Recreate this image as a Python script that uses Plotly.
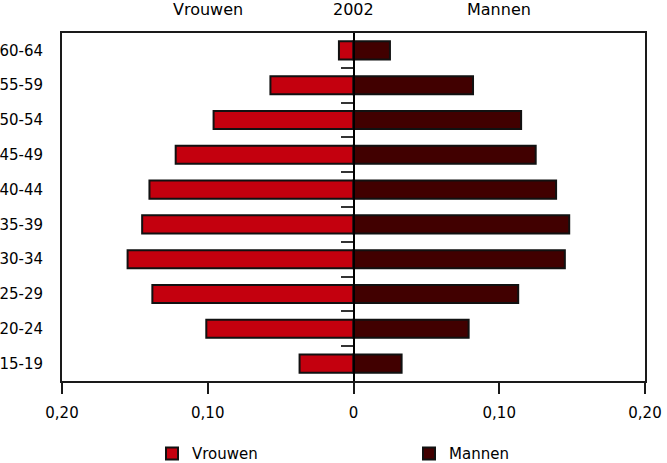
import plotly.graph_objects as go

age_groups = ["15-19", "20-24", "25-29", "30-34", "35-39",
              "40-44", "45-49", "50-54", "55-59", "60-64"]
vrouwen = [0.037, 0.101, 0.138, 0.155, 0.145, 0.140, 0.122, 0.096, 0.057, 0.010]
mannen = [0.033, 0.079, 0.113, 0.145, 0.148, 0.139, 0.125, 0.115, 0.082, 0.025]
x_tickvals = [-0.2, -0.1, 0, 0.1, 0.2]
x_ticktext = ["0,20", "0,10", "0", "0,10", "0,20"]
boundaries = [0.5, 1.5, 2.5, 3.5, 4.5, 5.5, 6.5, 7.5, 8.5]

FONT = "DejaVu Sans"
RED = "#C4000E"
MAROON = "#410000"

fig = go.Figure()
fig.add_trace(go.Bar(
    y=age_groups, x=[-v for v in vrouwen], orientation="h", name="Vrouwen",
    marker=dict(color=RED, line=dict(color="#111111", width=2)),
    legend="legend",
))
fig.add_trace(go.Bar(
    y=age_groups, x=mannen, orientation="h", name="Mannen",
    marker=dict(color=MAROON, line=dict(color="#111111", width=2)),
    legend="legend2",
))
# invisible helper trace so the zero-position axis (with boundary ticks) is drawn
fig.add_trace(go.Scatter(
    x=[0], y=[0], yaxis="y2", mode="markers", marker=dict(opacity=0),
    showlegend=False, hoverinfo="skip",
))

legend_common = dict(
    orientation="h", xanchor="left", yref="container", y=0.02, yanchor="middle",
    xref="container", font=dict(family=FONT, size=15, color="black"),
    bgcolor="rgba(0,0,0,0)",
)

fig.update_layout(
    width=667, height=463,
    margin=dict(l=62, r=22, t=33, b=82, pad=0, autoexpand=False),
    plot_bgcolor="white", paper_bgcolor="white",
    font=dict(family=FONT, size=15, color="black"),
    barmode="overlay", bargap=0.48,
    xaxis=dict(
        range=[-0.2, 0.2], tickvals=x_tickvals, ticktext=x_ticktext,
        showgrid=False, zeroline=False, automargin=False,
        showline=True, mirror=True, linecolor="#1a1a1a", linewidth=2,
        ticks="outside", ticklen=11, tickwidth=1.5, tickcolor="#1a1a1a",
        ticklabelstandoff=6,
        tickfont=dict(family=FONT, size=15, color="black"),
    ),
    yaxis=dict(
        type="category", categoryorder="array", categoryarray=age_groups,
        range=[-0.5, 9.5], automargin=False,
        showgrid=False, zeroline=False,
        showline=True, mirror=True, linecolor="#1a1a1a", linewidth=2,
        ticks="", ticklabelstandoff=14,
        tickfont=dict(family=FONT, size=15, color="black"),
    ),
    yaxis2=dict(
        overlaying="y", anchor="free", position=0.5, side="left",
        range=[-0.5, 9.5], tickvals=boundaries, showticklabels=False,
        showgrid=False, zeroline=False, automargin=False,
        showline=True, linecolor="black", linewidth=2,
        ticks="outside", ticklen=12, tickwidth=1.5, tickcolor="#333333",
    ),
    legend=dict(x=152 / 667, **legend_common),
    legend2=dict(x=409 / 667, **legend_common),
    annotations=[
        dict(text="Vrouwen", x=-0.1, y=1.0, xref="x", yref="paper",
             yanchor="middle", yshift=24, showarrow=False,
             font=dict(family=FONT, size=16, color="black")),
        dict(text="2002", x=0, y=1.0, xref="x", yref="paper",
             yanchor="middle", yshift=24, showarrow=False,
             font=dict(family=FONT, size=16, color="black")),
        dict(text="Mannen", x=0.1, y=1.0, xref="x", yref="paper",
             yanchor="middle", yshift=24, showarrow=False,
             font=dict(family=FONT, size=16, color="black")),
    ],
    showlegend=True,
)

fig.write_html("out.html")
